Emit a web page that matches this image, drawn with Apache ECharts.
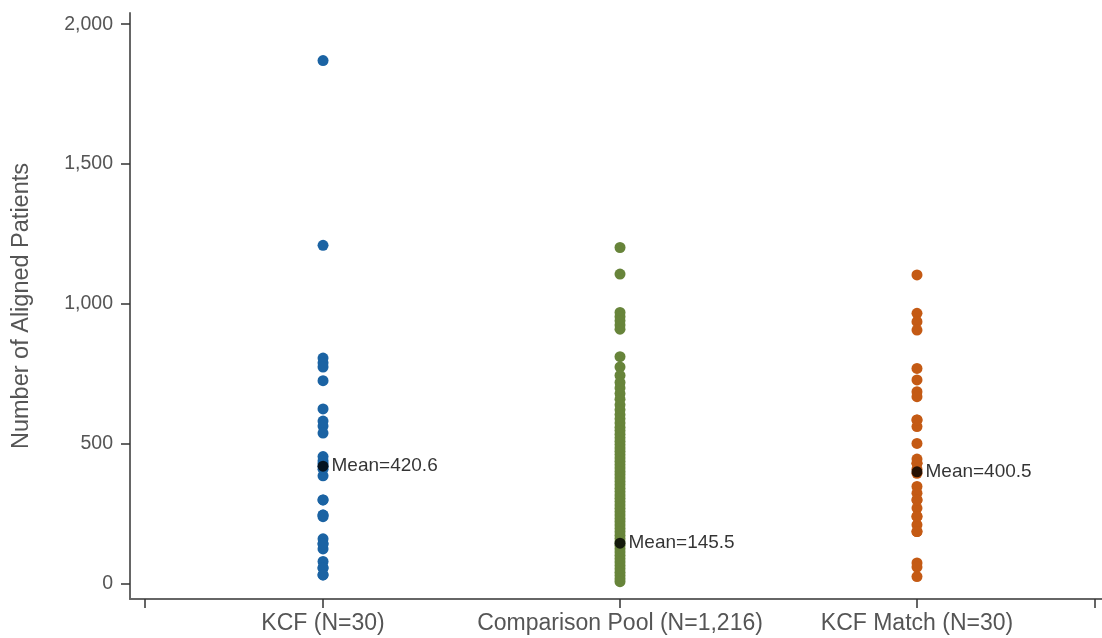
<!DOCTYPE html>
<html>
<head>
<meta charset="utf-8">
<script src="https://cdn.jsdelivr.net/npm/echarts@6/dist/echarts.min.js"></script>
<style>
    html, body {margin: 0; padding: 0; background: #fff;}
    #chart {width: 1102px; height: 638px;}
</style>
</head>
<body>
<div id="chart"></div>
<script>
// groups on the x axis
var groupNames = ['KCF (N=30)', 'Comparison Pool (N=1,216)', 'KCF Match (N=30)'];
var groupColors = ['#1b63a3', '#67843a', '#c45a14'];

// values
var kcfValues = [1870, 1210, 807, 790, 775, 726, 625, 582, 564, 539, 455, 440, 430, 386, 300, 246, 240,
    161, 143, 125, 80, 57, 32, 420, 410, 300, 246, 143, 57, 32];
var poolValues = [1202, 1107, 970, 955, 940, 925, 910, 812, 775, 745, 720, 700, 680, 660, 640, 622, 605,
    590, 575, 560, 548, 535, 522, 510, 498, 486, 474, 462, 450, 438, 426, 414, 402, 390, 378, 366,
    354, 342, 330, 318, 306, 294, 282, 270, 258, 246, 234, 222, 210, 198, 186, 174, 162, 150, 138,
    126, 114, 102, 90, 78, 66, 54, 42, 30, 18, 8];
var matchValues = [1104, 967, 937, 907, 770, 729, 687, 669, 586, 562, 502, 446, 431, 410, 395, 348, 324,
    300, 271, 241, 211, 187, 75, 60, 26, 300, 241, 187, 431, 586];
var meanValues = [420.6, 145.5, 400.5];

var yTicks = [0, 500, 1000, 1500, 2000];
var xTicks = [0.4, 1, 2, 3, 3.6];

function toPoints(x, values) {
    var pts = [];
    for (var i = 0; i < values.length; i++) {
        pts.push([x, values[i]]);
    }
    return pts;
}

var meanData = [];
for (var i = 0; i < meanValues.length; i++) {
    meanData.push([i + 1, meanValues[i]]);
}

var chart = echarts.init(document.getElementById('chart'));
var axisColor = '#666666';
var textColor = '#555555';
var fontName = '"Liberation Sans", Arial, sans-serif';

var option = {
    animation: false,
    grid: {left: 130, right: 0, top: 13, bottom: 39},
    xAxis: {
        type: 'value',
        min: 0.35,
        max: 3.623,
        splitLine: {show: false},
        axisLine: {show: true, onZero: false, lineStyle: {color: axisColor, width: 2}},
        axisTick: {show: true, length: 9, customValues: xTicks, lineStyle: {color: '#333', width: 1.5}},
        axisLabel: {
            customValues: [1, 2, 3],
            margin: 13,
            color: textColor,
            fontSize: 23,
            fontFamily: fontName,
            formatter: function (v) {
                return groupNames[Math.round(v) - 1];
            }
        }
    },
    yAxis: {
        type: 'value',
        min: -54,
        max: 2040,
        name: 'Number of Aligned Patients',
        nameLocation: 'middle',
        nameGap: 96,
        nameTextStyle: {color: textColor, fontSize: 23.5, fontFamily: fontName},
        splitLine: {show: false},
        axisLine: {show: true, onZero: false, lineStyle: {color: axisColor, width: 2}},
        axisTick: {show: true, length: 9, customValues: yTicks, lineStyle: {color: '#333', width: 1.5}},
        axisLabel: {
            customValues: yTicks,
            margin: 17,
            color: textColor,
            fontSize: 19.5,
            fontFamily: fontName,
            formatter: function (v) {
                return v.toLocaleString('en-US');
            }
        }
    },
    series: [
        {
            name: groupNames[0],
            type: 'scatter',
            symbolSize: 11,
            itemStyle: {color: groupColors[0], opacity: 1},
            data: toPoints(1, kcfValues)
        },
        {
            name: groupNames[1],
            type: 'scatter',
            symbolSize: 11,
            itemStyle: {color: groupColors[1], opacity: 1},
            data: toPoints(2, poolValues)
        },
        {
            name: groupNames[2],
            type: 'scatter',
            symbolSize: 11,
            itemStyle: {color: groupColors[2], opacity: 1},
            data: toPoints(3, matchValues)
        },
        {
            name: 'Mean',
            type: 'scatter',
            symbolSize: 11,
            z: 5,
            itemStyle: {color: '#000'},
            label: {
                show: true,
                position: 'right',
                distance: 3,
                color: '#000',
                fontSize: 19,
                fontFamily: fontName,
                formatter: function (p) {
                    return 'Mean=' + p.value[1];
                }
            },
            data: meanData
        }
    ]
};

chart.setOption(option);
</script>
</body>
</html>
